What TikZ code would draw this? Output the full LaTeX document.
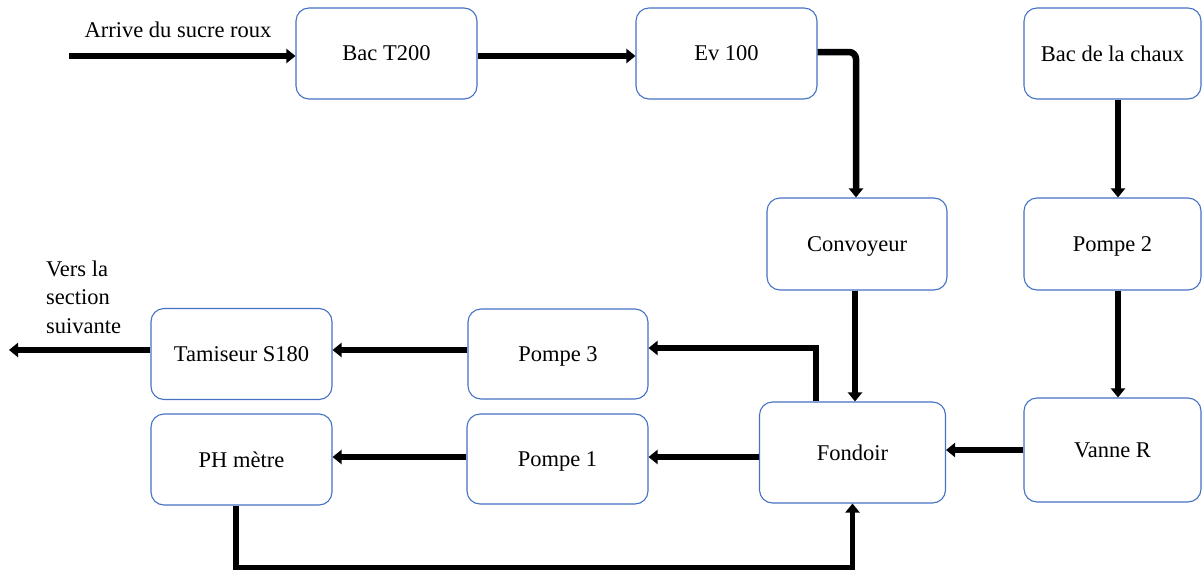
\documentclass[tikz,border=0pt]{standalone}
\usepackage{fontspec}
\setmainfont{Liberation Serif}
\usetikzlibrary{arrows.meta}
\definecolor{boxblue}{HTML}{4472C4}
\begin{document}
\begin{tikzpicture}[x=1pt,y=-1pt,
  unit/.style={draw=boxblue, line width=1.1pt, rounded corners=13pt, fill=white,
    align=center, inner sep=2pt, text depth=0pt, font=\fontsize{22.5}{27}\selectfont},
  flow/.style={line width=6.5pt, -{Triangle[length=9pt,width=14pt]}},
  lbl/.style={font=\fontsize{22.5}{28.5}\selectfont, inner sep=0pt}]
\useasboundingbox (0,0) rectangle (1202,570);

% process units
\node[unit, minimum width=181pt, minimum height=91pt] (t200)   at (386.5,53.5) {Bac T200};
\node[unit, minimum width=181pt, minimum height=91pt] (ev)     at (726.5,53.5) {Ev 100};
\node[unit, minimum width=177pt, minimum height=91pt] (chaux)  at (1112.5,53.5) {Bac de la chaux};
\node[unit, minimum width=180pt, minimum height=92pt] (conv)   at (857,244) {Convoyeur};
\node[unit, minimum width=177pt, minimum height=92pt] (pompe2) at (1112.5,244) {Pompe 2};
\node[unit, minimum width=181pt, minimum height=91pt] (tam)    at (241.5,354) {Tamiseur S180};
\node[unit, minimum width=180pt, minimum height=90pt] (p3)     at (558,354) {Pompe 3};
\node[unit, minimum width=181pt, minimum height=91pt] (ph)     at (241.5,459.5) {PH mètre};
\node[unit, minimum width=181pt, minimum height=90pt] (p1)     at (557.5,459) {Pompe 1};
\node[unit, minimum width=186pt, minimum height=101pt] (fond)  at (852.5,452.5) {Fondoir};
\node[unit, minimum width=177pt, minimum height=104pt] (vanne) at (1112.5,450) {Vanne R};

% free ends and labels
\coordinate (in) at (69,56);
\coordinate (out) at (9,350);
\node[lbl] (inlbl) at (178,30) {Arrive du sucre roux};
\node[lbl, align=left, anchor=west] (outlbl) at (46,297) {Vers la\\section\\suivante};

% sugar line
\draw[flow] (in) -- (t200.west |- in);
\draw[flow] (t200.east |- in) -- (ev.west |- in);
\draw[flow, rounded corners=7pt] ([yshift=1.5pt]ev.east) -| ([xshift=-1pt]conv.north);
\draw[flow] ([xshift=-2pt]conv.south) -- ([xshift=-2pt]conv.south |- fond.north);

% lime line
\draw[flow] ([xshift=5.5pt]chaux.south) -- ([xshift=5.5pt]pompe2.north);
\draw[flow] ([xshift=5.5pt]pompe2.south) -- ([xshift=5.5pt]vanne.north);
\draw[flow] (vanne.west) -- (vanne.west -| fond.east);

% outlets of the melter
\draw[flow] ([xshift=-36.5pt]fond.north) |- ([yshift=6pt]p3.east);
\draw[flow] ([yshift=4pt]p3.west) -- ([yshift=4pt]tam.east);
\draw[flow, line width=5.5pt] ([yshift=4pt]tam.west) -- (out);
\draw[flow] ([yshift=-4.5pt]fond.west) -- ([yshift=-4.5pt]fond.west -| p1.east);
\draw[flow] ([yshift=2pt]p1.west) -- ([yshift=2pt]p1.west -| ph.east);
\draw[flow, line width=5.5pt] ([xshift=-5.5pt]ph.south) -- ++(0,62) -| (fond.south);
\end{tikzpicture}
\end{document}
